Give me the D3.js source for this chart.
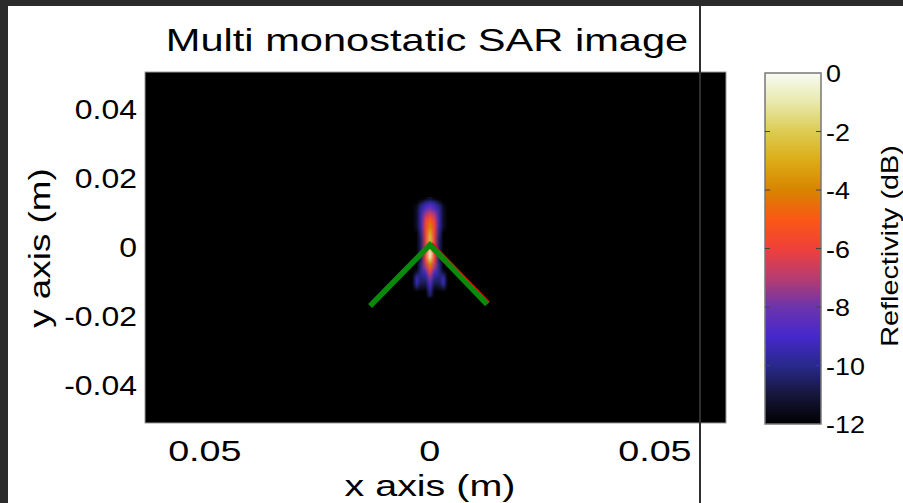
<!DOCTYPE html>
<html>
<head>
<meta charset="utf-8">
<script src="https://cdn.jsdelivr.net/npm/d3@7"></script>
<style>
  html, body { margin: 0; padding: 0; background: #2b2b2b; }
  svg { display: block; }
  text { font-family: "Liberation Sans", Arial, Helvetica, sans-serif; fill: #000; }
</style>
</head>
<body>
<svg id="chart" width="903" height="503"></svg>
<script>
// ---- axis ticks ----
const xTicks = [-0.05, 0, 0.05];
const xTickLabels = ["0.05", "0", "0.05"];
const yTicks = [0.04, 0.02, 0, -0.02, -0.04];
const yTickLabels = ["0.04", "0.02", "0", "-0.02", "-0.04"];
const cbTicks = [0, -2, -4, -6, -8, -10, -12];
const cbTickLabels = ["0", "-2", "-4", "-6", "-8", "-10", "-12"];

// ---- reflectivity grid (dB) around the target ----
const gridX = [-0.004, -0.003, -0.002, -0.001, 0, 0.001, 0.002, 0.003, 0.004];
const gridY = [0.014, 0.013, 0.012, 0.011, 0.010, 0.009, 0.008, 0.007, 0.006, 0.005,
               0.004, 0.003, 0.002, 0.001, 0, -0.001, -0.002, -0.003, -0.004, -0.005,
               -0.006, -0.007, -0.008, -0.009, -0.010, -0.011, -0.012, -0.013, -0.014, -0.015];
const reflectivityDb = [
  [-12, -12,   -12,   -11.8, -11.2, -11.8, -12,   -12,   -12],
  [-12, -12,   -11.2, -10.2, -9.8,  -10.2, -11.2, -12,   -12],
  [-12, -11.6, -10.2, -9.2,  -8.6,  -9.2,  -10.2, -11.6, -12],
  [-12, -11.4, -9.8,  -8.6,  -7.8,  -8.6,  -9.8,  -11.4, -12],
  [-12, -11.4, -9.6,  -7.6,  -7,    -7.6,  -9.6,  -11.4, -12],
  [-12, -11.4, -9.4,  -7,    -6,    -7,    -9.4,  -11.4, -12],
  [-12, -11.4, -9.4,  -6.4,  -5,    -6.4,  -9.4,  -11.4, -12],
  [-12, -11.4, -9.4,  -6,    -4.5,  -6,    -9.4,  -11.4, -12],
  [-12, -11.4, -9.4,  -6,    -4,    -6,    -9.4,  -11.4, -12],
  [-12, -11.6, -9.8,  -6,    -3.5,  -6,    -9.8,  -11.6, -12],
  [-12, -12,   -10,   -6,    -3,    -6,    -10,   -12,   -12],
  [-12, -12,   -10.2, -6.2,  -2.5,  -6.2,  -10.2, -12,   -12],
  [-12, -12,   -10.4, -6.2,  -2.5,  -6.2,  -10.4, -12,   -12],
  [-12, -12,   -10.4, -6.4,  -3,    -6.4,  -10.4, -12,   -12],
  [-12, -12,   -10.4, -6.4,  -3,    -6.4,  -10.4, -12,   -12],
  [-12, -12,   -10.4, -6.2,  -1.5,  -6.2,  -10.4, -12,   -12],
  [-12, -12,   -10.4, -5.8,  -0.5,  -5.8,  -10.4, -12,   -12],
  [-12, -12,   -10.4, -5.8,  -1,    -5.8,  -10.4, -12,   -12],
  [-12, -12,   -10.4, -6.2,  -2.5,  -6.2,  -10.4, -12,   -12],
  [-12, -12,   -10,   -6.8,  -4,    -6.8,  -10,   -12,   -12],
  [-12, -12,   -10,   -7.4,  -5,    -7.4,  -10,   -12,   -12],
  [-12, -11.5, -10,   -8.4,  -6,    -8.4,  -10,   -11.5, -12],
  [-12, -10.5, -10,   -9.4,  -7,    -9.4,  -10,   -10.5, -12],
  [-12, -9.5,  -10.4, -10,   -7.8,  -10,   -10.4, -9.5,  -12],
  [-12, -9.5,  -10.5, -10.5, -8.4,  -10.5, -10.5, -9.5,  -12],
  [-12, -10,   -11,   -11,   -9,    -11,   -11,   -10,   -12],
  [-12, -11,   -11.5, -11.5, -9.5,  -11.5, -11.5, -11,   -12],
  [-12, -12,   -12,   -12,   -10,   -12,   -12,   -12,   -12],
  [-12, -12,   -12,   -12,   -10.5, -12,   -12,   -12,   -12],
  [-12, -12,   -12,   -12,   -12,   -12,   -12,   -12,   -12]
];

// ---- colormap (dB -> colour) ----
const cmapDb = [-12, -11, -10, -9, -8, -7, -6, -5, -4, -3, -2, -1, 0];
const cmapColors = ["#000000", "#16163c", "#28298c", "#4628cc", "#6c34ac", "#b83c70",
                    "#f0403a", "#fa5814", "#d88400", "#dcac16", "#dccc52", "#e8e9ac", "#f8fbf4"];

// ---- target outline (V shape) ----
const outlineGreen = [[-0.0133, -0.0171], [0, 0.0006], [0.0127, -0.0166]];
const outlineRed = [[0.0003, 0.0009], [0.0130, -0.0163]];

const svg = d3.select("#chart");

// figure background
svg.append("rect").attr("x", 8).attr("y", 6).attr("width", 895).attr("height", 497).attr("fill", "#ffffff");

// scales
const x = d3.scaleLinear().domain([-0.0633, 0.0658]).range([145, 726]);
const y = d3.scaleLinear().domain([-0.0510, 0.0507]).range([423, 72]);
const color = d3.scaleLinear().domain(cmapDb).range(cmapColors).interpolate(d3.interpolateRgb).clamp(true);
const cb = d3.scaleLinear().domain([-12, 0]).range([424, 73]);

// stretch text along its own direction
function stretch(sel, k) {
  sel.each(function () {
    const L = this.getComputedTextLength();
    d3.select(this).attr("textLength", L * k).attr("lengthAdjust", "spacingAndGlyphs");
  });
}

// ---- image axes ----
svg.append("defs").append("clipPath").attr("id", "plotClip")
  .append("rect").attr("x", 145).attr("y", 72).attr("width", 581).attr("height", 351);

svg.append("rect").attr("x", 145).attr("y", 72).attr("width", 581).attr("height", 351)
  .attr("fill", "#000").attr("stroke", "#9a9a9a").attr("stroke-width", 1);

const plot = svg.append("g").attr("clip-path", "url(#plotClip)");

// heat map: grid painted into a small raster, smoothly scaled by the browser
const nx = gridX.length, ny = gridY.length;
const cnv = document.createElement("canvas");
cnv.width = nx; cnv.height = ny;
const ctx = cnv.getContext("2d");
const imgData = ctx.createImageData(nx, ny);
reflectivityDb.forEach((row, j) => row.forEach((v, i) => {
  const c = d3.rgb(color(v));
  const k = 4 * (j * nx + i);
  imgData.data[k] = c.r; imgData.data[k + 1] = c.g; imgData.data[k + 2] = c.b; imgData.data[k + 3] = 255;
}));
ctx.putImageData(imgData, 0, 0);
const dxc = gridX[1] - gridX[0];
const dyc = gridY[0] - gridY[1];
plot.append("image")
  .attr("href", cnv.toDataURL())
  .attr("x", x(gridX[0] - dxc / 2))
  .attr("y", y(gridY[0] + dyc / 2))
  .attr("width", x(gridX[nx - 1] + dxc / 2) - x(gridX[0] - dxc / 2))
  .attr("height", y(gridY[ny - 1] - dyc / 2) - y(gridY[0] + dyc / 2))
  .attr("preserveAspectRatio", "none")
  .style("image-rendering", "auto");

const line = d3.line().x(d => x(d[0])).y(d => y(d[1]));
plot.append("path").attr("d", line(outlineRed)).attr("fill", "none")
  .attr("stroke", "#ff0000").attr("stroke-width", 4);
plot.append("path").attr("d", line(outlineGreen)).attr("fill", "none")
  .attr("stroke", "#0a8a0a").attr("stroke-width", 5.5).attr("stroke-linejoin", "miter");

// tick labels
svg.append("g").selectAll("text").data(yTicks).join("text")
  .attr("x", 137).attr("y", d => y(d) + 10)
  .attr("text-anchor", "end").attr("font-size", 28)
  .text((d, i) => yTickLabels[i])
  .call(stretch, 1.14);

svg.append("g").selectAll("text").data(xTicks).join("text")
  .attr("x", d => x(d)).attr("y", 461)
  .attr("text-anchor", "middle").attr("font-size", 29)
  .text((d, i) => xTickLabels[i])
  .call(stretch, 1.3);

// titles
svg.append("text").attr("x", 427).attr("y", 51).attr("text-anchor", "middle")
  .attr("font-size", 32).text("Multi monostatic SAR image").call(stretch, 1.3);
svg.append("text").attr("x", 430).attr("y", 496).attr("text-anchor", "middle")
  .attr("font-size", 29).text("x axis (m)").call(stretch, 1.36);
svg.append("text").attr("transform", "translate(50,248) rotate(-90)").attr("text-anchor", "middle")
  .attr("font-size", 29).text("y axis (m)").call(stretch, 1.27);

// ---- colour bar ----
const grad = svg.select("defs").append("linearGradient").attr("id", "cbGrad")
  .attr("x1", 0).attr("y1", 1).attr("x2", 0).attr("y2", 0);
grad.selectAll("stop").data(cmapDb).join("stop")
  .attr("offset", d => (d + 12) / 12)
  .attr("stop-color", (d, i) => cmapColors[i]);
svg.append("rect").attr("x", 765).attr("y", cb(0)).attr("width", 56).attr("height", cb(-12) - cb(0))
  .attr("fill", "url(#cbGrad)").attr("stroke", "#777").attr("stroke-width", 1.5);

const cbt = svg.append("g").selectAll("g").data(cbTicks.slice(1, -1)).join("g");
cbt.append("line").attr("x1", 765).attr("x2", 770).attr("y1", d => cb(d)).attr("y2", d => cb(d))
  .attr("stroke", "#444").attr("stroke-width", 1);
cbt.append("line").attr("x1", 816).attr("x2", 821).attr("y1", d => cb(d)).attr("y2", d => cb(d))
  .attr("stroke", "#444").attr("stroke-width", 1);

svg.append("g").selectAll("text").data(cbTicks).join("text")
  .attr("x", 826).attr("y", d => cb(d) + 9)
  .attr("font-size", 24)
  .text((d, i) => cbTickLabels[i])
  .call(stretch, 1.12);

svg.append("text").attr("transform", "translate(898,246) rotate(-90)").attr("text-anchor", "middle")
  .attr("font-size", 24).text("Reflectivity (dB)").call(stretch, 1.2);

// window divider
svg.append("line").attr("x1", 700).attr("x2", 700).attr("y1", 6).attr("y2", 503)
  .attr("stroke", "#2f2f2f").attr("stroke-width", 2);
</script>
</body>
</html>
